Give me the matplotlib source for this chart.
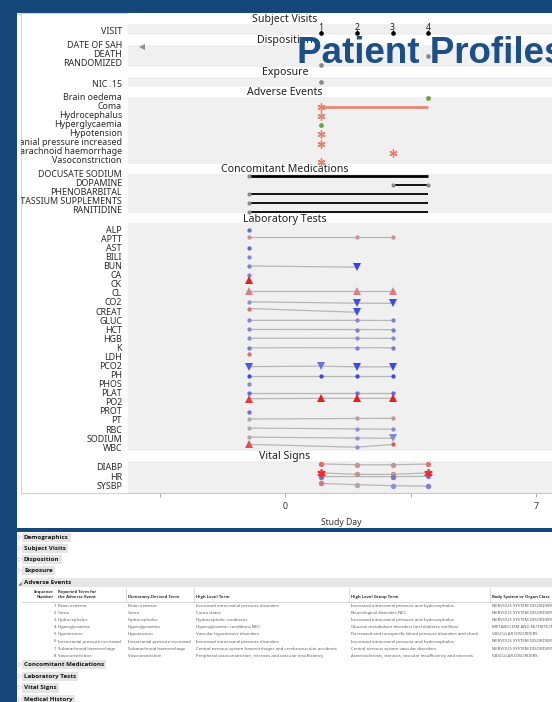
import matplotlib
matplotlib.use("Agg")
import matplotlib.pyplot as plt
from matplotlib.patches import Rectangle
from matplotlib.colors import LinearSegmentedColormap

# ------------------------------------------------------------------ data
visit_days = [1, 2, 3, 4]
visit_numbers = ["1", "2", "3", "4"]

disp_terms = ["DATE OF SAH", "DEATH", "RANDOMIZED"]
disp_days = [-8, 4, 1]

exposure_terms = ["NIC .15"]
exposure_days = [1]

ae_terms = ["Brain oedema", "Coma", "Hydrocephalus", "Hyperglycaemia", "Hypotension",
            "Intracranial pressure increased", "Subarachnoid haemorrhage", "Vasoconstriction"]
ae_start_days = [4, 1, 1, 1, 1, 1, 3, 1]
ae_end_days = [4, 4, 1, 1, 1, 1, 3, 1]
ae_serious = [False, True, True, False, True, True, True, True]

cm_terms = ["DOCUSATE SODIUM", "DOPAMINE", "PHENOBARBITAL", "POTASSIUM SUPPLEMENTS", "RANITIDINE"]
cm_start_days = [-1, 3, -1, -1, -1]
cm_end_days = [4, 4, 4, 4, 4]
cm_records = [2, 1, 1, 1, 1]

lab_tests = ["ALP", "APTT", "AST", "BILI", "BUN", "CA", "CK", "CL", "CO2", "CREAT",
             "GLUC", "HCT", "HGB", "K", "LDH", "PCO2", "PH", "PHOS", "PLAT", "PO2",
             "PROT", "PT", "RBC", "SODIUM", "WBC"]
lab_days = [[-1], [-1, 2, 3], [-1], [-1], [-1, 2], [-1], [-1], [-1, 2, 3], [-1, 2, 3], [-1, 2],
            [-1, 2, 3], [-1, 2, 3], [-1, 2, 3], [-1, 2, 3], [-1], [-1, 1, 2, 3], [-1, 1, 2, 3], [-1],
            [-1, 2, 3], [-1, 1, 2, 3], [-1], [-1, 2, 3], [-1, 2, 3], [-1, 2, 3], [-1, 2, 3]]
# standardised result: -1 far below normal range, 0 mid range, +1 far above
lab_scores = [[-0.7], [0.25, 0.25, 0.25], [-0.75], [-0.5], [-0.55, -1.0], [-0.5], [1.0],
              [0.5, 0.5, 0.5], [-0.35, -0.9, -0.95], [0.6, -0.9],
              [-0.5, -0.5, -0.55], [-0.5, -0.55, -0.6], [-0.4, -0.4, -0.45], [-0.6, -0.55, -0.6],
              [0.6], [-0.85, -0.65, -0.95, -0.95], [-0.95, -0.95, -0.95, -0.95], [-0.45],
              [-0.7, -0.7, -0.7], [0.85, 1.0, 1.0, 1.0],
              [-0.65], [0.0, 0.2, 0.25], [0.0, -0.35, -0.45], [0.0, -0.35, -0.45], [0.75, -0.4, 0.7]]
lab_flags = ["N", "NNN", "N", "N", "NL", "N", "H", "HHH", "NLL", "NL",
             "NNN", "NNN", "NNN", "NNN", "N", "LLLL", "NNNN", "N", "NNN", "HHHH",
             "N", "NNN", "NNN", "NNL", "HNN"]

vs_tests = ["DIABP", "HR", "SYSBP"]
vs_series_row = [0, 1, 1, 2]
vs_series_days = [[1, 2, 3, 4], [1, 2, 3, 4], [1, 3, 4], [1, 2, 3, 4]]
vs_series_scores = [[0.6, 0.25, 0.25, 0.55], [0.9, 0.3, 0.3, 0.9],
                    [-0.6, -0.6, -0.5], [0.55, 0.05, -0.35, -0.55]]
vs_series_flags = ["NNNN", "HNNH", "NNN", "NNNN"]

# adverse event listing
tbl_seq = [1, 2, 3, 4, 5, 6, 7, 8]
tbl_reported = ae_terms
tbl_dictionary = ae_terms
tbl_hlt = ["Increased intracranial pressure disorders", "Coma states", "Hydrocephalic conditions",
           "Hyperglycaemic conditions NEC", "Vascular hypotensive disorders",
           "Increased intracranial pressure disorders",
           "Central nervous system haemorrhages and cerebrovascular accidents",
           "Peripheral vasoconstriction, necrosis and vascular insufficiency"]
tbl_hlgt = ["Increased intracranial pressure and hydrocephalus", "Neurological disorders NEC",
            "Increased intracranial pressure and hydrocephalus",
            "Glucose metabolism disorders (incl diabetes mellitus)",
            "Decreased and nonspecific blood pressure disorders and shock",
            "Increased intracranial pressure and hydrocephalus",
            "Central nervous system vascular disorders",
            "Arteriosclerosis, stenosis, vascular insufficiency and necrosis"]
tbl_soc = ["NERVOUS SYSTEM DISORDERS", "NERVOUS SYSTEM DISORDERS", "NERVOUS SYSTEM DISORDERS",
           "METABOLISM AND NUTRITION DISORDERS", "VASCULAR DISORDERS", "NERVOUS SYSTEM DISORDERS",
           "NERVOUS SYSTEM DISORDERS", "VASCULAR DISORDERS"]
tbl_headers = ["Dictionary-Derived Term", "High Level Term", "High Level Group Term",
               "Body System or Organ Class"]

nodes_before = ["Demographics", "Subject Visits", "Disposition", "Exposure"]
open_node = "Adverse Events"
nodes_after = ["Concomitant Medications", "Laboratory Tests", "Vital Signs", "Medical History"]

# ------------------------------------------------------------------ layout (pixels)
W, H, DPI = 552, 702, 100
PX_LEFT, PX_RIGHT, PX_TOP, PX_BOTTOM = 128, 552, 13, 493
PX_DAY0 = 285
PX_PER_DAY = 125.5 / 3.5
LABEL_X0 = 21

GEOM = {
    "Subject Visits": dict(band=(24, 35), first=31.0, pitch=9.0, dy=2.0),
    "Disposition": dict(band=(45, 67), first=45.0, pitch=8.85, dy=2.0),
    "Exposure": dict(band=(77, 87), first=83.5, pitch=9.0, dy=-1.5),
    "Adverse Events": dict(band=(97, 164), first=96.7, pitch=9.04, dy=1.6),
    "Concomitant Medications": dict(band=(174, 213), first=173.3, pitch=9.0, dy=2.4),
    "Laboratory Tests": dict(band=(223.3, 451), first=229.3, pitch=9.08, dy=-1.0),
    "Vital Signs": dict(band=(461, 492.5), first=466.4, pitch=9.7, dy=-1.0),
}

BLUE_BG = "#15477a"
TITLE_BLUE = "#1c4f88"
BAND = "#f0f0f0"
GRAY_DOT = "#8a8a8a"
SALMON = "#e8806e"
GREEN = "#6aa83f"
FONT = "Noto Sans"
BOLD_FONT = "Open Sans"

score_cmap = LinearSegmentedColormap.from_list(
    "lab", [(0.0, "#3341ee"), (0.25, "#8088d6"), (0.5, "#aeaaaa"), (0.75, "#d48282"), (1.0, "#ec1c1c")])


def score_color(s):
    return score_cmap((s + 1) / 2)


def ax_rect(x0, y0, x1, y1):
    return [x0 / W, 1 - y1 / H, (x1 - x0) / W, (y1 - y0) / H]


def row_y(section, n):
    g = GEOM[section]
    return [g["first"] + i * g["pitch"] for i in range(n)]


fig = plt.figure(figsize=(W / DPI, H / DPI), dpi=DPI, facecolor="white")

# ------------------------------------------------------------------ frame & report area
bg = fig.add_axes([0, 0, 1, 1], zorder=-1)
bg.set_xlim(0, W)
bg.set_ylim(H, 0)
bg.axis("off")
for (x0, y0, x1, y1) in [(0, 0, W, 13), (0, 0, 17, H), (0, 528, W, 532)]:
    bg.add_patch(Rectangle((x0, y0), x1 - x0, y1 - y0, color=BLUE_BG, lw=0))
bg.plot([17, W], [13.5, 13.5], color="#d0d0d0", lw=0.6)

# ------------------------------------------------------------------ label panel
axl = fig.add_axes(ax_rect(LABEL_X0, PX_TOP, PX_LEFT, PX_BOTTOM), zorder=1)
axl.set_xlim(LABEL_X0, PX_LEFT)
axl.set_ylim(PX_BOTTOM, PX_TOP)
axl.set_xticks([])
axl.set_yticks([])
for sp in axl.spines.values():
    sp.set_color("#d2d2d2")
    sp.set_linewidth(0.8)


def put_labels(section, labels):
    for y, lab in zip(row_y(section, len(labels)), labels):
        t = axl.text(122, y, lab, ha="right", va="center_baseline", fontsize=6.4,
                     family=FONT, color="#2a2a2a", clip_on=True)
        t.set_clip_path(axl.patch)


put_labels("Subject Visits", ["VISIT"])
put_labels("Disposition", disp_terms)
put_labels("Exposure", exposure_terms)
put_labels("Adverse Events", ae_terms)
put_labels("Concomitant Medications", cm_terms)
put_labels("Laboratory Tests", lab_tests)
put_labels("Vital Signs", vs_tests)

# ------------------------------------------------------------------ main profile plot
ax = fig.add_axes(ax_rect(PX_LEFT, PX_TOP, PX_RIGHT, PX_BOTTOM), zorder=1)
x_lo = (PX_LEFT - PX_DAY0) / PX_PER_DAY
x_hi = (PX_RIGHT - PX_DAY0) / PX_PER_DAY
ax.set_xlim(x_lo, x_hi)
ax.set_ylim(PX_BOTTOM, PX_TOP)
for name in ["top", "right", "left"]:
    ax.spines[name].set_visible(False)
ax.spines["bottom"].set_color("#c8c8c8")
ax.spines["bottom"].set_linewidth(0.8)
ax.set_yticks([])
ax.set_xticks([0, 7])
ax.set_xticks([-3.5, 3.5], minor=True)
ax.tick_params(axis="x", which="both", direction="out", length=3, width=0.7,
               color="#a8a8a8", labelsize=6.3, labelcolor="#333333", pad=3.5)
for lbl in ax.get_xticklabels():
    lbl.set_family(FONT)

for sec, g in GEOM.items():
    b0, b1 = g["band"]
    ax.axhspan(b0, b1, color=BAND, lw=0, zorder=0)
    ax.text(0, b0 - 5.6, sec, ha="center", va="center_baseline", fontsize=7.6,
            family=FONT, color="#1e1e1e", zorder=2)

# subject visits
yv = row_y("Subject Visits", 1)[0] + GEOM["Subject Visits"]["dy"]
ax.plot(visit_days, [yv] * len(visit_days), "o", color="black", ms=3.3, mew=0, zorder=4)
ax.vlines(visit_days, yv - 3.5, yv, color="black", lw=0.8, zorder=4)
for d, lab in zip(visit_days, visit_numbers):
    ax.text(d, yv - 6.5, lab, ha="center", va="center_baseline", fontsize=6.2,
            family=FONT, color="#1e1e1e", zorder=4)

# disposition events (off-scale dates get an edge arrow)
for y, d in zip(row_y("Disposition", len(disp_terms)), disp_days):
    y += GEOM["Disposition"]["dy"]
    if d < x_lo:
        ax.plot(x_lo + 14 / PX_PER_DAY, y, "<", color="#8f8f8f", ms=4.2, mew=0, zorder=4)
    else:
        ax.plot(d, y, "o", color=GRAY_DOT, ms=3.4, mew=0, zorder=4)

# exposure
for y, d in zip(row_y("Exposure", len(exposure_terms)), exposure_days):
    ax.plot(d, y + GEOM["Exposure"]["dy"], "o", color=GRAY_DOT, ms=3.4, mew=0, zorder=4)

# adverse events
for y, s, e, ser in zip(row_y("Adverse Events", len(ae_terms)), ae_start_days, ae_end_days, ae_serious):
    y += GEOM["Adverse Events"]["dy"]
    if e > s:
        ax.plot([s, e], [y, y], color=SALMON, lw=1.9, solid_capstyle="butt", zorder=3)
    if ser:
        ax.plot(s, y, marker=(6, 2, 0), color=SALMON, ms=5.8, mew=1.0, zorder=4)
    else:
        ax.plot(s, y, "o", color=GREEN, ms=3.5, mew=0, zorder=4)

# concomitant medications
for y, s, e, n in zip(row_y("Concomitant Medications", len(cm_terms)), cm_start_days, cm_end_days, cm_records):
    y += GEOM["Concomitant Medications"]["dy"]
    ax.plot([s, e], [y, y], color="black", lw=1.3 + 0.7 * (n - 1), solid_capstyle="butt", zorder=3)
    ends = [s, e] if s > 0 else [s]
    ax.plot(ends, [y] * len(ends), "o", color=GRAY_DOT, ms=3.0, mew=0, zorder=4)

MARK = {"N": "o", "L": "v", "H": "^"}
MSIZE = {"N": 3.1, "L": 5.2, "H": 5.2}

# laboratory results
for y, days, scores, flags in zip(row_y("Laboratory Tests", len(lab_tests)), lab_days, lab_scores, lab_flags):
    ys = [y + GEOM["Laboratory Tests"]["dy"] - 2.5 * s for s in scores]
    if len(days) > 1:
        ax.plot(days, ys, color="#b6b6b6", lw=0.9, zorder=3)
    for d, yy, s, f in zip(days, ys, scores, flags):
        ax.plot(d, yy, MARK[f], color=score_color(s), ms=MSIZE[f], mew=0, zorder=4)

# vital signs (flagged values drawn as asterisks)
vs_rows = row_y("Vital Signs", len(vs_tests))
for r, days, scores, flags in zip(vs_series_row, vs_series_days, vs_series_scores, vs_series_flags):
    ys = [vs_rows[r] + GEOM["Vital Signs"]["dy"] - 2.5 * s for s in scores]
    ax.plot(days, ys, color="#b6b6b6", lw=0.9, zorder=3)
    for d, yy, s, f in zip(days, ys, scores, flags):
        if f == "H":
            ax.plot(d, yy, marker=(6, 2, 0), color="#ee2a2a", ms=6.0, mew=1.2, zorder=5)
        else:
            ax.plot(d, yy, "o", color=score_color(s), ms=3.9, mew=0, zorder=4)

fig.text(341 / W, 1 - 521.7 / H, "Study Day", ha="center", va="center_baseline",
         fontsize=6.2, family=FONT, color="#333333")

# ------------------------------------------------------------------ report outline & listing
def outline_node(y, label, opened=False):
    kw = dict(ha="left", va="center", fontsize=4.5, weight="bold",
              family=BOLD_FONT, color="#161616")
    if opened:
        bg.add_patch(Rectangle((22, y - 4.5), W - 22, 9, color="#e6e6e6", lw=0))
        bg.text(19.8, y + 0.6, "\u25e2", ha="center", va="center", fontsize=3.6,
                family="DejaVu Sans", color="#7a7a7a")
        bg.text(24, y, label, **kw)
    else:
        bg.text(19.8, y, "\u25b7", ha="center", va="center", fontsize=4.0,
                family="DejaVu Sans", color="#a8a8a8")
        bg.text(24, y, label, bbox=dict(boxstyle="square,pad=0.35", fc="#e4e4e4", ec="none"), **kw)


for i, name in enumerate(nodes_before):
    outline_node(537.7 + 11 * i, name)
outline_node(582, open_node, opened=True)

# listing header
hdr_kw = dict(fontsize=3.0, weight="bold", family=BOLD_FONT, color="#2e2e2e", va="center")
bg.text(53.5, 591.5, "Sequence", ha="right", **hdr_kw)
bg.text(53.5, 596.5, "Number", ha="right", **hdr_kw)
bg.text(58, 591.5, "Reported Term for", ha="left", **hdr_kw)
bg.text(58, 596.5, "the Adverse Event", ha="left", **hdr_kw)
col_x = [128, 196, 351, 492]
for x, h in zip(col_x, tbl_headers):
    bg.text(x, 597.3, h, ha="left", **hdr_kw)
for x in [125.5, 193.5, 349, 490]:
    bg.plot([x, x], [587.5, 601.5], color="#d4d4d4", lw=0.6)
bg.plot([22, W], [601.6, 601.6], color="#cccccc", lw=0.6)

row_kw = dict(fontsize=3.1, family=FONT, color="#5e5e5e", va="center")
for i in range(len(tbl_seq)):
    y = 606 + 7.1 * i
    bg.text(56, y, str(tbl_seq[i]), ha="right", **row_kw)
    for x, col in zip([58] + col_x, [tbl_reported, tbl_dictionary, tbl_hlt, tbl_hlgt, tbl_soc]):
        bg.text(x, y, col[i], ha="left", clip_on=True, **row_kw)

for i, name in enumerate(nodes_after):
    outline_node(664.7 + 11.6 * i, name)

# ------------------------------------------------------------------ page title
fig.text(297 / W, 1 - 63 / H, "Patient Profiles", ha="left", va="baseline", fontsize=26.5,
         weight="bold", family="Liberation Sans", color=TITLE_BLUE, zorder=10)

fig.savefig("out.png", dpi=DPI, facecolor="white")
